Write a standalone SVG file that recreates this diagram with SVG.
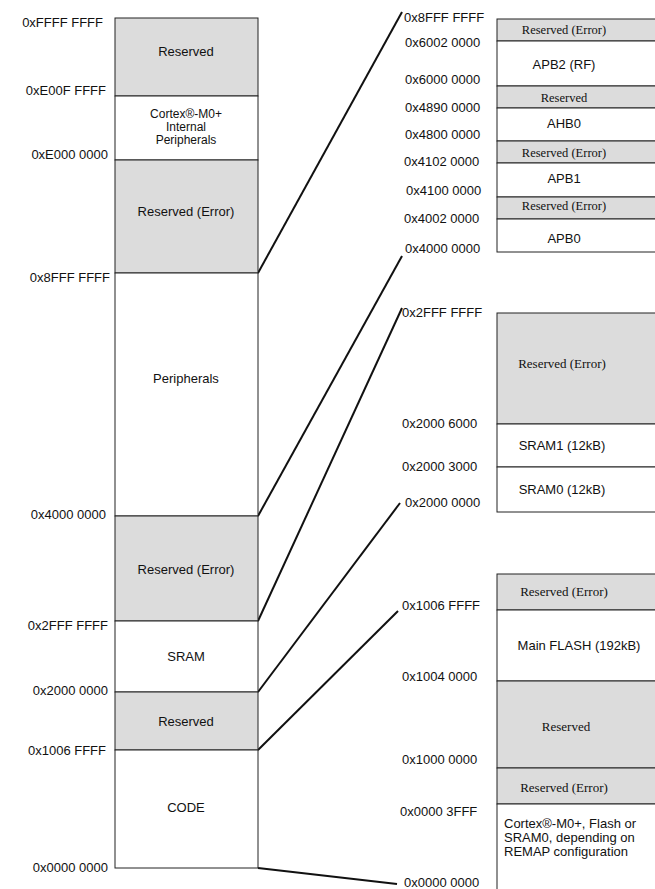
<svg xmlns="http://www.w3.org/2000/svg" width="655" height="889" viewBox="0 0 655 889">
<style>
.g{fill:#dcdcdc;stroke:#222;stroke-width:1}
.w{fill:#fff;stroke:#222;stroke-width:1}
text{font-family:"Liberation Sans",Arial,sans-serif;font-size:13px;fill:#111}
.c{text-anchor:middle}
.t{font-family:"Liberation Serif","Times New Roman",serif}
.a{text-anchor:end}
.s{font-size:12.5px}
.m{font-size:12px}
#conn line{stroke:#111;stroke-width:2}
</style>
<rect width="655" height="889" fill="#fff"/>
<g id="conn">
<line x1="258" y1="273" x2="402" y2="12"/>
<line x1="258" y1="516" x2="402" y2="256"/>
<line x1="258" y1="621" x2="402" y2="308"/>
<line x1="258" y1="692" x2="400" y2="503"/>
<line x1="258" y1="750" x2="398" y2="611"/>
<line x1="258" y1="868" x2="397" y2="884"/>
</g>
<g id="left">
<rect class="g" x="115" y="18" width="143" height="78"/><text class="c" x="186" y="56">Reserved</text>
<rect class="w" x="115" y="96" width="143" height="64"/><text class="c m" x="186" y="118">Cortex®-M0+</text><text class="c m" x="186" y="131">Internal</text><text class="c m" x="186" y="144">Peripherals</text>
<rect class="g" x="115" y="160" width="143" height="113"/><text class="c" x="186" y="216">Reserved (Error)</text>
<rect class="w" x="115" y="273" width="143" height="243"/><text class="c" x="186" y="383">Peripherals</text>
<rect class="g" x="115" y="516" width="143" height="105"/><text class="c" x="186" y="574">Reserved (Error)</text>
<rect class="w" x="115" y="621" width="143" height="71"/><text class="c" x="186" y="661">SRAM</text>
<rect class="g" x="115" y="692" width="143" height="58"/><text class="c" x="186" y="726">Reserved</text>
<rect class="w" x="115" y="750" width="143" height="118"/><text class="c" x="186" y="812">CODE</text>
<text class="a" x="103" y="27">0xFFFF FFFF</text>
<text class="a" x="106" y="95">0xE00F FFFF</text>
<text class="a" x="108" y="159">0xE000 0000</text>
<text class="a" x="110" y="282">0x8FFF FFFF</text>
<text class="a" x="106" y="519">0x4000 0000</text>
<text class="a" x="108" y="630">0x2FFF FFFF</text>
<text class="a" x="108" y="695">0x2000 0000</text>
<text class="a" x="106" y="755">0x1006 FFFF</text>
<text class="a" x="108" y="872">0x0000 0000</text>
</g>
<g id="top-right">
<rect class="g" x="497" y="19" width="170" height="22"/><text class="c t s" x="564" y="34">Reserved (Error)</text>
<rect class="w" x="497" y="41" width="170" height="45"/><text class="c" x="564" y="69">APB2 (RF)</text>
<rect class="g" x="497" y="86" width="170" height="22"/><text class="c t s" x="564" y="102">Reserved</text>
<rect class="w" x="497" y="108" width="170" height="33"/><text class="c" x="564" y="128">AHB0</text>
<rect class="g" x="497" y="141" width="170" height="22"/><text class="c t s" x="564" y="157">Reserved (Error)</text>
<rect class="w" x="497" y="163" width="170" height="34"/><text class="c" x="564" y="183">APB1</text>
<rect class="g" x="497" y="197" width="170" height="22"/><text class="c t s" x="564" y="210">Reserved (Error)</text>
<rect class="w" x="497" y="219" width="170" height="33"/><text class="c" x="564" y="243">APB0</text>
<text x="404" y="22">0x8FFF FFFF</text>
<text x="405" y="47">0x6002 0000</text>
<text x="405" y="84">0x6000 0000</text>
<text x="405" y="112">0x4890 0000</text>
<text x="405" y="139">0x4800 0000</text>
<text x="404" y="166">0x4102 0000</text>
<text x="406" y="195">0x4100 0000</text>
<text x="404" y="223">0x4002 0000</text>
<text x="405" y="253">0x4000 0000</text>
</g>
<g id="mid-right">
<rect class="g" x="497" y="313" width="170" height="111"/><text class="c t" x="562" y="368">Reserved (Error)</text>
<rect class="w" x="497" y="424" width="170" height="43"/><text class="c" x="562" y="450">SRAM1 (12kB)</text>
<rect class="w" x="497" y="467" width="170" height="45"/><text class="c" x="562" y="494">SRAM0 (12kB)</text>
<text x="402" y="317">0x2FFF FFFF</text>
<text x="402" y="428">0x2000 6000</text>
<text x="402" y="471">0x2000 3000</text>
<text x="405" y="507">0x2000 0000</text>
</g>
<g id="bottom-right">
<rect class="g" x="497" y="574" width="170" height="36"/><text class="c t" x="564" y="596">Reserved (Error)</text>
<rect class="w" x="497" y="610" width="170" height="71"/><text class="c" x="579" y="650">Main FLASH (192kB)</text>
<rect class="g" x="497" y="681" width="170" height="87"/><text class="c t" x="566" y="731">Reserved</text>
<rect class="g" x="497" y="768" width="170" height="36"/><text class="c t" x="564" y="792">Reserved (Error)</text>
<rect class="w" x="497" y="804" width="170" height="100"/>
<text x="504" y="828">Cortex®-M0+, Flash or</text>
<text x="504" y="842">SRAM0, depending on</text>
<text x="504" y="856">REMAP configuration</text>
<text x="402" y="610">0x1006 FFFF</text>
<text x="402" y="681">0x1004 0000</text>
<text x="402" y="764">0x1000 0000</text>
<text x="400" y="816">0x0000 3FFF</text>
<text x="404" y="887">0x0000 0000</text>
</g>
</svg>
